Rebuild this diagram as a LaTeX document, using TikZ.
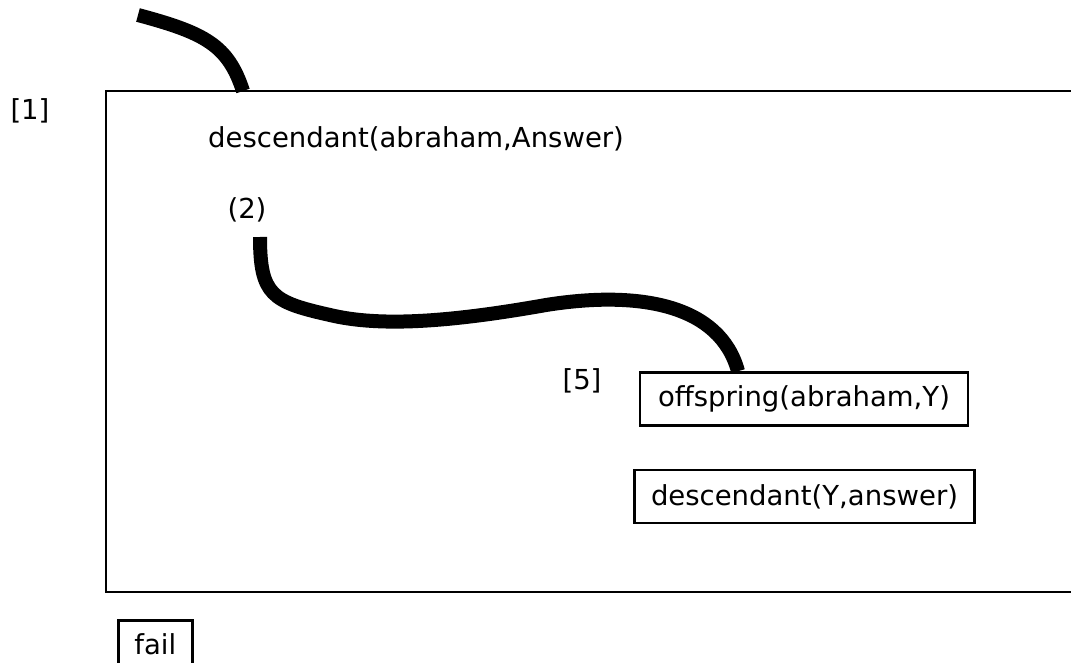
\documentclass[tikz,border=0pt]{standalone}
\usepackage{fontspec}
\setmainfont{DejaVu Sans}
\begin{document}
\begin{tikzpicture}[x=1pt,y=-1pt,
  lbl/.style={inner sep=0pt, font=\fontsize{27.5}{32}\selectfont},
  goal/.style={draw, line width=2.6pt, inner xsep=6pt, inner ysep=5pt, font=\fontsize{27.5}{32}\selectfont},
  thick curve/.style={line width=14pt, line cap=butt},
  frame/.style={line width=2.8pt}]
\useasboundingbox (0,0) rectangle (1071,663);
\clip (0,0) rectangle (1071,663);
% outer open frame
\draw[frame] (1080,91) -- (106,91) -- (106,592) -- (1080,592);
% labels
\node[lbl] (l1) at (30,111) {[1]};
\node[lbl, anchor=west] (q1) at (208,139) {descendant(abraham,Answer)};
\node[lbl] (n2) at (247,210) {(2)};
\node[lbl] (l5) at (582,381) {[5]};
\node[goal, minimum width=328pt, minimum height=53pt] (off) at (804,399) {offspring(abraham,Y)};
\node[goal, minimum width=340pt, minimum height=53pt] (desc) at (804.5,496.5) {descendant(Y,answer)};
\node[goal, minimum width=74pt, minimum height=48pt, inner ysep=0pt, anchor=north west] (fail) at (117,619) {fail};
% connectors
\coordinate (c1s) at (138,15);
\coordinate (c1e) at (243,91);
\coordinate (c2s) at (260,237);
\coordinate (c2x) at (738,0);
\draw[thick curve] (c1s) .. controls (205,33) and (228,45) .. (c1e);
\draw[thick curve] (c2s) .. controls (260,295) and (272,302) .. (330,315)
  .. controls (380,327) and (450,322) .. (546,305)
  .. controls (640,290) and (720,305) .. (off.north -| c2x);
\end{tikzpicture}
\end{document}
